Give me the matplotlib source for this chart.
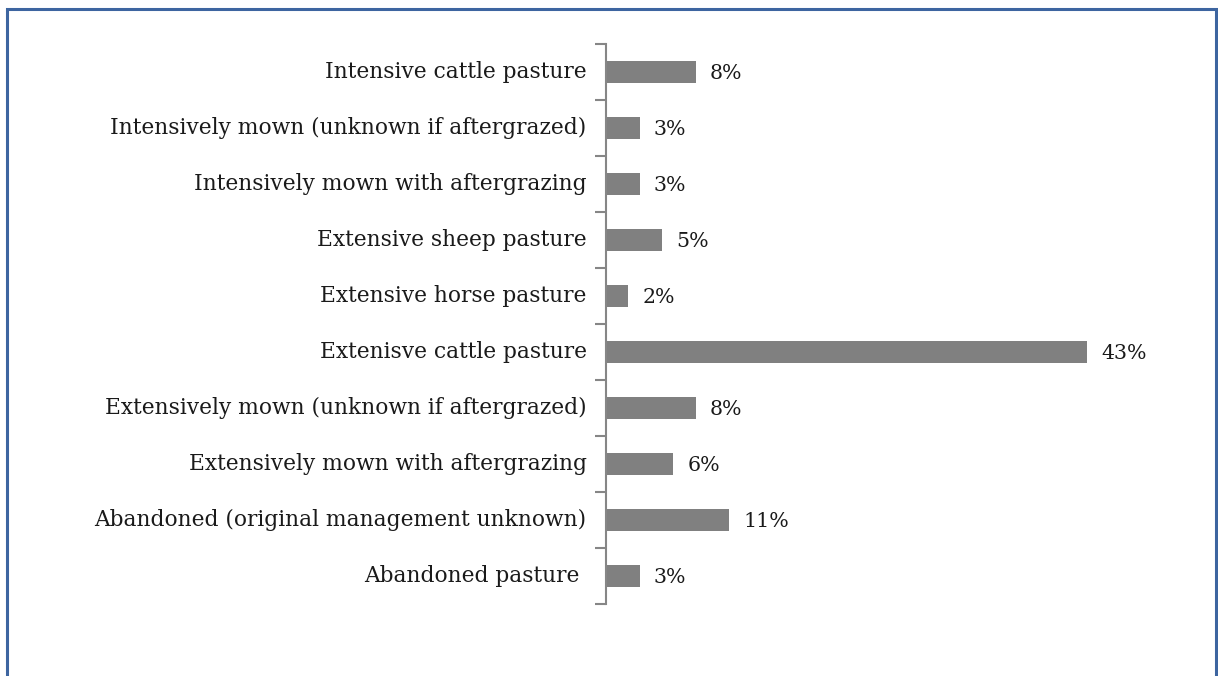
import matplotlib.pyplot as plt
from matplotlib.patches import Rectangle

categories = [
    "Intensive cattle pasture",
    "Intensively mown (unknown if aftergrazed)",
    "Intensively mown with aftergrazing",
    "Extensive sheep pasture",
    "Extensive horse pasture",
    "Extenisve cattle pasture",
    "Extensively mown (unknown if aftergrazed)",
    "Extensively mown with aftergrazing",
    "Abandoned (original management unknown)",
    "Abandoned pasture ",
]
shares = [8, 3, 3, 5, 2, 43, 8, 6, 11, 3]

plt.rcParams['font.family'] = ['DejaVu Serif']

fig = plt.figure(figsize=(12.18, 6.76), dpi=100)
ax = fig.add_axes([0.4975, 0.1065, 0.445, 0.8285])

# outer frame of the chart area
fig.patches.append(Rectangle((7 / 1218, -0.05), 1209 / 1218, 1.05 - 9 / 676,
                             transform=fig.transFigure, fill=False,
                             edgecolor='#3d65a0', linewidth=2.2))

y = list(range(len(categories)))
ax.barh(y, shares, height=0.4, color='#808080')
for yi, v in zip(y, shares):
    ax.text(v + 1.25, yi + 0.03, f"{v}%", va='center', ha='left', fontsize=14.8, color='#1a1a1a')

ax.set_ylim(len(categories) - 0.5, -0.5)
ax.set_xlim(0, 48.4)
ax.set_yticks(y)
ax.set_yticklabels(categories, fontsize=15.7, color='#1a1a1a', va='center')
ax.set_yticks([i - 0.5 for i in range(len(categories) + 1)], minor=True)
ax.tick_params(axis='y', which='major', length=0, pad=14)
ax.tick_params(axis='y', which='minor', length=8, width=1.5, color='#868686')
ax.set_xticks([])
for s in ['top', 'right', 'bottom']:
    ax.spines[s].set_visible(False)
ax.spines['left'].set_color('#868686')
ax.spines['left'].set_linewidth(1.5)

fig.savefig('out.png', dpi=100)
